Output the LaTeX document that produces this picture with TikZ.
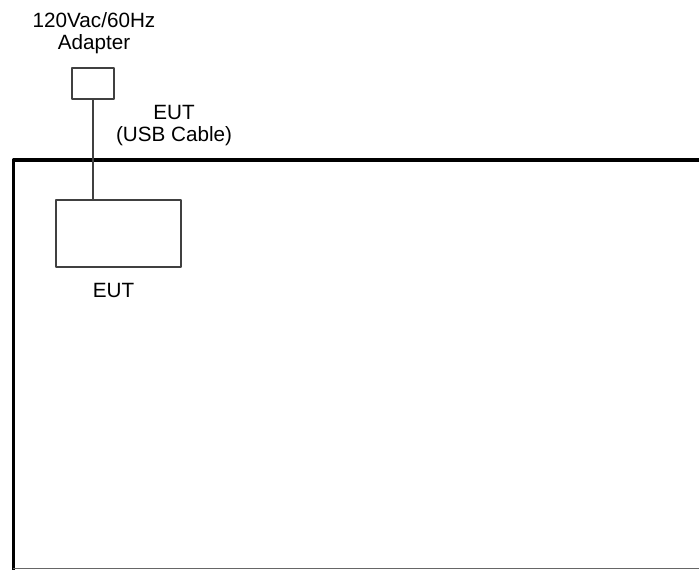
\documentclass[tikz,border=0pt]{standalone}
\usepackage{fontspec}
\setmainfont{Liberation Sans}
\usetikzlibrary{positioning}
\tikzset{
	unitbox/.style={draw=black!75, line width=1.1pt, fill=white, inner sep=0pt},
	lbl/.style={font=\fontsize{15.5}{16.5}\selectfont, align=center, inner sep=0pt},
}
\begin{document}
\begin{tikzpicture}[x=0.75pt, y=-0.75pt, line join=round]
		\useasboundingbox (0,0) rectangle (699,569);
		\clip (0,0) rectangle (699,569);
		% table edge
		\draw[line width=2.3pt] (13.5,569.5)--(13.5,160)--(720,160);
		\draw[black!60, line width=1pt] (13,568.5)--(720,568.5);
		% units
		\node[unitbox, minimum width=31.5pt, minimum height=23.25pt] (adapter) at (93,83.5) {};
		\node[unitbox, minimum width=94pt, minimum height=50pt] (eut) at (118.5,233.5) {};
		\draw[black!75, line width=1.1pt] (adapter.south)--(adapter.south |- eut.north);
		% labels
		\node[lbl, anchor=south] (adapterlbl) at (94,54.5) {120Vac/60Hz\\Adapter};
		\node[lbl, anchor=south] (cablelbl) at (174,146.5) {EUT\\(USB Cable)};
		\node[lbl, anchor=base] (eutlbl) at (113.5,297) {EUT};
\end{tikzpicture}
\end{document}
